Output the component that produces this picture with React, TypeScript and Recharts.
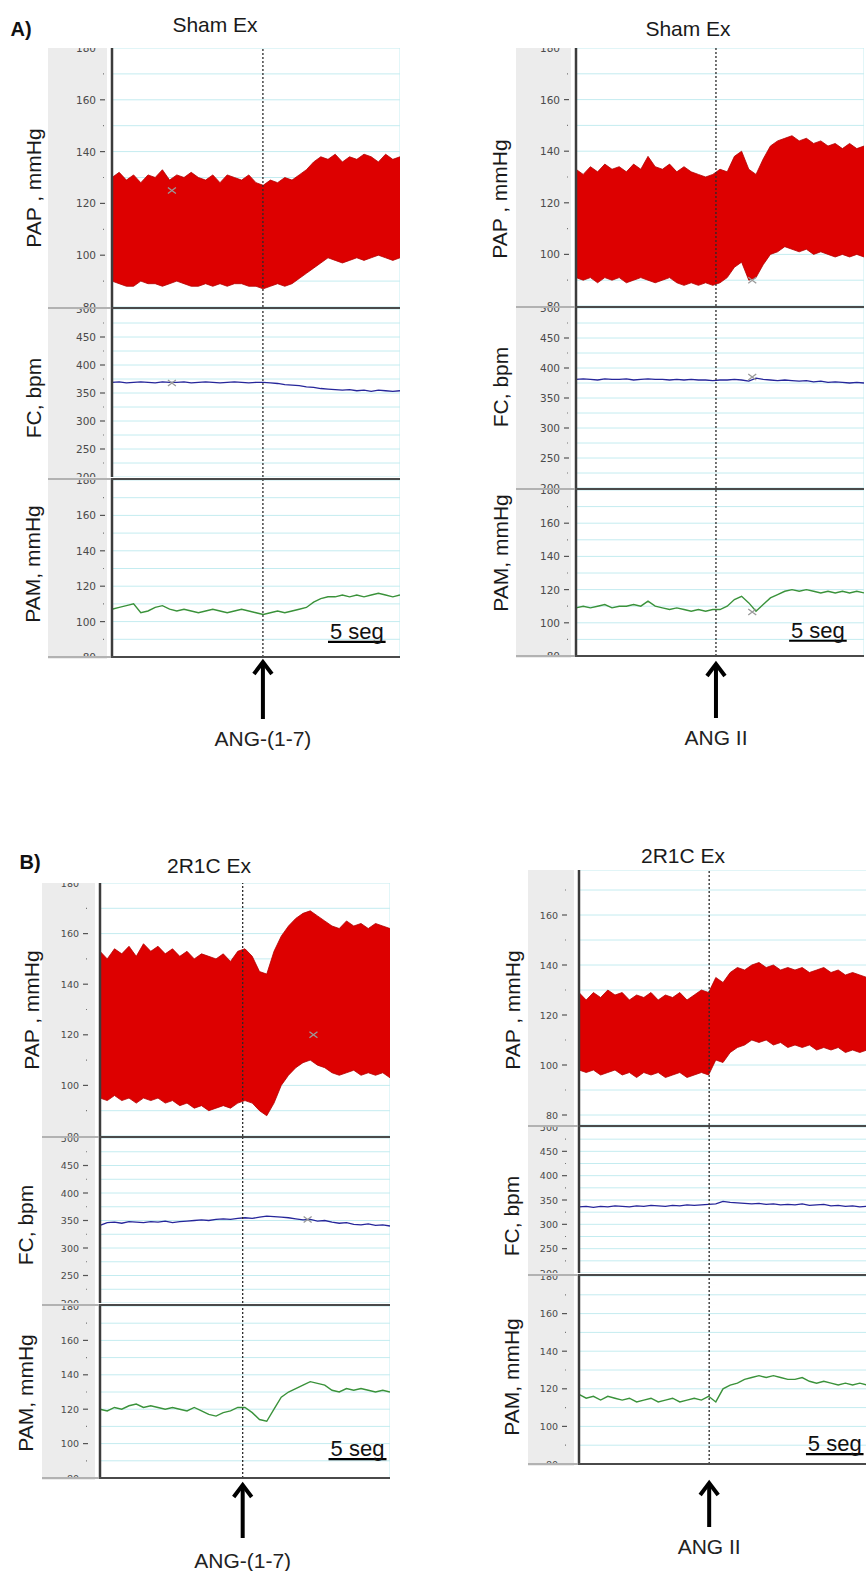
import React from 'react'
import {
  ComposedChart,
  Area,
  Line,
  XAxis,
  YAxis,
  CartesianGrid,
  ReferenceLine,
  ReferenceDot,
} from 'recharts'

const FONT = '"Liberation Sans", Arial, sans-serif'
const TICK_FONT = '"DejaVu Sans", sans-serif'

// 41 samples over the 25 s window shown in every strip
const SAMPLE_STEP = 0.625
const X_TICKS = [0, 2.5, 5, 7.5, 10, 12.5, 15, 17.5, 20, 22.5, 25]

const PAP_DOMAIN = [80, 180]
const PAP_DOMAIN_B2 = [76, 178]
const FC_DOMAIN = [200, 500]
const PAM_DOMAIN = [80, 180]
const PAP_TICKS = [80, 90, 100, 110, 120, 130, 140, 150, 160, 170, 180]
const PAP_TICKS_B2 = [80, 90, 100, 110, 120, 130, 140, 150, 160, 170]
const FC_TICKS = [200, 225, 250, 275, 300, 325, 350, 375, 400, 425, 450, 475, 500]
const PAM_TICKS = [80, 90, 100, 110, 120, 130, 140, 150, 160, 170, 180]

// A) Sham Ex, ANG-(1-7)
const A1_PAP_HIGH = [130, 132, 129, 131, 128, 131, 130, 133, 129, 131, 130, 132, 130, 129, 131, 128, 131, 130, 129, 131, 128, 127, 129, 128, 130, 129, 131, 133, 136, 138, 137, 139, 136, 138, 137, 139, 138, 136, 139, 137, 138]
const A1_PAP_LOW = [90, 89, 88, 88, 90, 89, 89, 88, 89, 90, 89, 88, 88, 89, 88, 89, 88, 89, 89, 88, 88, 87, 88, 89, 88, 89, 91, 93, 95, 97, 99, 98, 97, 98, 99, 98, 99, 100, 99, 98, 99]
const A1_FC = [369, 370, 368, 369, 370, 369, 368, 370, 369, 369, 370, 368, 369, 370, 369, 368, 369, 370, 369, 368, 369, 369, 368, 367, 365, 364, 363, 361, 360, 358, 357, 356, 355, 356, 354, 355, 353, 355, 354, 353, 354]
const A1_PAM = [107, 108, 109, 110, 105, 106, 108, 109, 107, 106, 107, 106, 105, 106, 107, 106, 105, 106, 107, 106, 105, 104, 105, 106, 105, 106, 107, 108, 111, 113, 114, 114, 115, 114, 115, 114, 115, 116, 115, 114, 115]

// A) Sham Ex, ANG II
const A2_PAP_HIGH = [133, 131, 134, 132, 135, 133, 134, 132, 135, 133, 138, 134, 133, 135, 132, 134, 132, 131, 130, 131, 133, 132, 138, 140, 133, 131, 137, 142, 144, 145, 146, 144, 145, 143, 144, 142, 143, 141, 143, 141, 142]
const A2_PAP_LOW = [91, 90, 91, 89, 91, 90, 91, 89, 90, 91, 90, 89, 90, 91, 89, 88, 89, 88, 89, 88, 89, 91, 95, 97, 90, 91, 96, 100, 101, 103, 102, 101, 102, 100, 101, 100, 99, 100, 99, 100, 99]
const A2_FC = [381, 382, 381, 380, 382, 381, 381, 382, 380, 381, 382, 381, 381, 380, 381, 380, 381, 380, 380, 379, 380, 380, 381, 380, 378, 383, 381, 380, 379, 380, 379, 378, 379, 377, 378, 376, 377, 376, 375, 376, 375]
const A2_PAM = [109, 110, 109, 110, 111, 109, 110, 110, 111, 110, 113, 110, 109, 108, 109, 108, 107, 108, 107, 108, 108, 110, 114, 116, 112, 107, 111, 115, 117, 119, 120, 119, 120, 119, 118, 119, 118, 119, 118, 119, 118]

// B) 2R1C Ex, ANG-(1-7)
const B1_PAP_HIGH = [153, 150, 154, 152, 155, 151, 156, 153, 155, 152, 154, 151, 153, 150, 152, 151, 150, 152, 149, 153, 154, 151, 145, 144, 153, 159, 163, 166, 168, 169, 167, 165, 163, 162, 165, 163, 164, 162, 164, 163, 162]
const B1_PAP_LOW = [95, 94, 96, 94, 95, 93, 95, 94, 95, 93, 94, 92, 93, 91, 92, 90, 91, 92, 91, 93, 94, 93, 90, 88, 93, 100, 104, 107, 109, 110, 108, 107, 105, 104, 105, 106, 104, 105, 104, 105, 103]
const B1_FC = [341, 346, 347, 345, 348, 347, 346, 348, 347, 349, 346, 348, 349, 350, 351, 350, 352, 353, 352, 354, 355, 354, 356, 358, 357, 356, 355, 353, 351, 352, 349, 350, 347, 345, 346, 343, 342, 344, 341, 342, 340]
const B1_PAM = [120, 119, 121, 120, 122, 123, 121, 122, 121, 120, 121, 120, 119, 121, 119, 117, 116, 118, 119, 121, 121, 118, 114, 113, 120, 127, 130, 132, 134, 136, 135, 134, 131, 130, 132, 131, 132, 131, 130, 131, 130]

// B) 2R1C Ex, ANG II
const B2_PAP_HIGH = [129, 126, 129, 127, 130, 128, 129, 126, 128, 127, 129, 126, 128, 127, 129, 126, 128, 130, 129, 135, 133, 137, 139, 138, 140, 141, 139, 140, 138, 139, 138, 139, 137, 138, 139, 137, 138, 136, 137, 136, 135]
const B2_PAP_LOW = [98, 97, 98, 96, 97, 98, 96, 97, 95, 97, 96, 97, 95, 96, 97, 95, 96, 97, 96, 102, 101, 105, 107, 108, 110, 109, 110, 108, 109, 107, 108, 107, 108, 106, 107, 106, 107, 105, 106, 105, 106]
const B2_FC = [336, 337, 335, 337, 336, 338, 337, 336, 338, 337, 339, 338, 337, 339, 338, 340, 339, 340, 341, 342, 347, 345, 344, 343, 342, 343, 341, 342, 340, 341, 340, 342, 339, 340, 341, 338, 339, 337, 338, 336, 337]
const B2_PAM = [117, 115, 116, 114, 116, 115, 114, 115, 113, 114, 115, 113, 114, 115, 113, 114, 115, 114, 116, 113, 120, 122, 123, 125, 126, 127, 126, 127, 126, 125, 125, 126, 124, 123, 124, 123, 122, 123, 122, 123, 122]

// drug injection times (s) and cursor marks
const EVENTS = { A1: 13.1, A2: 12.15, B1: 12.3, B2: 11.3 }
const MARKS = {
  A1: [{ kind: 'pap', t: 5.2, v: 125 }, { kind: 'fc', t: 5.2, v: 368 }],
  A2: [{ kind: 'pap', t: 15.3, v: 90 }, { kind: 'fc', t: 15.3, v: 385 }, { kind: 'pam', t: 15.3, v: 106.5 }],
  B1: [{ kind: 'pap', t: 18.4, v: 120 }, { kind: 'fc', t: 17.9, v: 352 }],
  B2: [],
}
// 5 s scale bars (start, end, level in mmHg)
const SCALE_BARS = {
  A1: [18.75, 23.75, 88.6],
  A2: [18.5, 23.5, 89.2],
  B1: [19.7, 24.7, 91],
  B2: [19.7, 24.7, 85.3],
}

const buildRows = (hi, lo, fc, pam) =>
  hi.map((h, i) => ({ t: i * SAMPLE_STEP, pap: [lo[i], h], fc: fc[i], pam: pam[i] }))

const PANELS = [
  {
    id: 'A1', title: 'Sham Ex', titleX: 215, titleY: 24, letter: 'A)', letterX: 21, letterY: 29,
    drug: 'ANG-(1-7)', rows: buildRows(A1_PAP_HIGH, A1_PAP_LOW, A1_FC, A1_PAM),
    greyLeft: 48, axisX: 112, plotRight: 400,
    pap: [48, 307], fc: [309, 477], pam: [480, 657],
    papDomain: PAP_DOMAIN, papTicks: PAP_TICKS,
    labels: { pap: [33, 188], fc: [33, 398], pam: [32, 564] },
    tickFont: 10.5, labelGap: 16, dash: [12, 7],
    arrow: { tip: 3, tail: 62, text: 81 },
  },
  {
    id: 'A2', title: 'Sham Ex', titleX: 688, titleY: 28,
    drug: 'ANG II', rows: buildRows(A2_PAP_HIGH, A2_PAP_LOW, A2_FC, A2_PAM),
    greyLeft: 516, axisX: 576, plotRight: 864,
    pap: [48, 306], fc: [308, 488], pam: [490, 656],
    papDomain: PAP_DOMAIN, papTicks: PAP_TICKS,
    labels: { pap: [499, 199], fc: [500, 387], pam: [500, 553] },
    tickFont: 10.5, labelGap: 16, dash: [12, 7],
    arrow: { tip: 6, tail: 62, text: 81 },
  },
  {
    id: 'B1', title: '2R1C Ex', titleX: 209, titleY: 865, letter: 'B)', letterX: 30, letterY: 862,
    drug: 'ANG-(1-7)', rows: buildRows(B1_PAP_HIGH, B1_PAP_LOW, B1_FC, B1_PAM),
    greyLeft: 42, axisX: 100, plotRight: 390,
    pap: [883, 1136], fc: [1138, 1303], pam: [1306, 1478],
    papDomain: PAP_DOMAIN, papTicks: PAP_TICKS,
    labels: { pap: [31, 1010], fc: [25, 1225], pam: [25, 1393] },
    tickFont: 9.5, labelGap: 21, dash: [17, 12],
    arrow: { tip: 5, tail: 60, text: 82 },
  },
  {
    id: 'B2', title: '2R1C Ex', titleX: 683, titleY: 855,
    drug: 'ANG II', rows: buildRows(B2_PAP_HIGH, B2_PAP_LOW, B2_FC, B2_PAM),
    greyLeft: 528, axisX: 579, plotRight: 867,
    pap: [870, 1125], fc: [1127, 1273], pam: [1276, 1464],
    papDomain: PAP_DOMAIN_B2, papTicks: PAP_TICKS_B2,
    labels: { pap: [512, 1010], fc: [511, 1216], pam: [511, 1377] },
    tickFont: 9.5, labelGap: 21, dash: [17, 12],
    arrow: { tip: 17, tail: 63, text: 82 },
  },
]

const AXIS_TITLES = { pap: 'PAP , mmHg', fc: 'FC, bpm', pam: 'PAM, mmHg' }

const makeTick = (panel, domain, major) => (props) => {
  const { x, y, payload } = props
  const v = payload.value
  const txt = {
    textAnchor: 'end' as const,
    dominantBaseline: 'central' as const,
    fontSize: panel.tickFont,
    fontFamily: TICK_FONT,
    fill: '#4a4a4a',
  }
  // end labels are cut by the strip border
  if (v === domain[0] || v === domain[1]) {
    const atTop = v === domain[1]
    return (
      <svg x={x - 40} y={atTop ? y : y - 4} width={40} height={4} overflow="hidden">
        <text x={40 - panel.labelGap} y={atTop ? 0 : 4} {...txt}>{v}</text>
      </svg>
    )
  }
  if (v % major === 0) {
    return (
      <g>
        <text x={x - panel.labelGap} y={y} {...txt}>{v}</text>
        <line x1={x - panel.dash[0]} x2={x - panel.dash[1]} y1={y} y2={y} stroke="#555" strokeWidth={1.2} />
      </g>
    )
  }
  return <line x1={x - panel.dash[0] + 3} x2={x - panel.dash[1] - 1} y1={y} y2={y} stroke="#777" strokeWidth={1.2} />
}

const crossShape = (p) => (
  <path
    d={`M${p.cx - 4},${p.cy - 3}L${p.cx + 4},${p.cy + 3}M${p.cx - 4},${p.cy + 3}L${p.cx + 4},${p.cy - 3}`}
    stroke="#9a9a9a"
    strokeWidth={1.3}
    fill="none"
  />
)

const arrowLabel = (panel) => (props) => {
  const { x, y, height } = props.viewBox
  const base = y + height
  const tip = base + panel.arrow.tip
  const tail = base + panel.arrow.tail
  return (
    <g>
      <line x1={x} x2={x} y1={tip + 3} y2={tail} stroke="#000" strokeWidth={4} />
      <path d={`M${x - 9},${tip + 14}L${x},${tip + 2}L${x + 9},${tip + 14}`} fill="none" stroke="#000" strokeWidth={4} />
      <text x={x} y={base + panel.arrow.text} textAnchor="middle" dominantBaseline="central" fontSize={21} fontFamily={FONT} fill="#222">
        {panel.drug}
      </text>
    </g>
  )
}

const scaleLabel = (props) => {
  const { x, y, width } = props.viewBox
  return (
    <text x={x + width / 2} y={y - 3} textAnchor="middle" fontSize={22} fontFamily={FONT} fill="#111">
      5 seg
    </text>
  )
}

function Strip({ panel, kind }) {
  const [top, bottom] = panel[kind]
  const isPam = kind === 'pam'
  const extra = isPam ? 110 : 0
  const domain = kind === 'fc' ? FC_DOMAIN : kind === 'pap' ? panel.papDomain : PAM_DOMAIN
  const ticks = kind === 'fc' ? FC_TICKS : kind === 'pap' ? panel.papTicks : PAM_TICKS
  const major = kind === 'fc' ? 50 : 20
  const marks = MARKS[panel.id].filter((m) => m.kind === kind)
  const bar = SCALE_BARS[panel.id]

  return (
    <div style={{ position: 'absolute', left: panel.greyLeft, top }}>
      <ComposedChart
        width={panel.plotRight - panel.greyLeft}
        height={bottom - top + extra}
        data={panel.rows}
        margin={{ top: 0, right: 0, bottom: extra, left: 0 }}
      >
        <CartesianGrid stroke="#c4ecf0" strokeWidth={1} />
        <XAxis dataKey="t" type="number" domain={[0, 25]} ticks={X_TICKS} height={0} tick={false} tickLine={false} axisLine={false} />
        <YAxis
          type="number"
          domain={domain}
          ticks={ticks}
          interval={0}
          width={panel.axisX - panel.greyLeft}
          tickSize={0}
          tickMargin={0}
          tickLine={false}
          tick={makeTick(panel, domain, major)}
          axisLine={{ stroke: '#3c3c3c', strokeWidth: 2.5 }}
          allowDataOverflow
        />
        {kind === 'pap' && (
          <Area dataKey="pap" type="linear" stroke="#b30000" strokeWidth={0.8} fill="#dd0000" fillOpacity={1} isAnimationActive={false} dot={false} activeDot={false} />
        )}
        {kind === 'fc' && (
          <Line dataKey="fc" type="linear" stroke="#26269a" strokeWidth={1.3} dot={false} activeDot={false} isAnimationActive={false} />
        )}
        {kind === 'pam' && (
          <Line dataKey="pam" type="linear" stroke="#3a923a" strokeWidth={1.4} dot={false} activeDot={false} isAnimationActive={false} />
        )}
        <ReferenceLine
          x={EVENTS[panel.id]}
          stroke="#2a2a2a"
          strokeWidth={1.3}
          strokeDasharray="2 2"
          label={isPam ? arrowLabel(panel) : undefined}
        />
        {marks.map((m, i) => (
          <ReferenceDot key={i} x={m.t} y={m.v} r={4} shape={crossShape} />
        ))}
        {isPam && (
          <ReferenceLine
            segment={[{ x: bar[0], y: bar[2] }, { x: bar[1], y: bar[2] }]}
            stroke="#000"
            strokeWidth={2.2}
            label={scaleLabel}
          />
        )}
      </ComposedChart>
    </div>
  )
}

function Panel({ panel }) {
  const lines = [panel.fc[0] - 1, panel.pam[0] - 1, panel.pam[1]]
  return (
    <>
      <div
        style={{
          position: 'absolute',
          left: panel.greyLeft,
          top: panel.pap[0],
          width: panel.axisX - 5 - panel.greyLeft,
          height: panel.pam[1] - panel.pap[0] + 2,
          background: '#ececec',
        }}
      />
      <Strip panel={panel} kind="pap" />
      <Strip panel={panel} kind="fc" />
      <Strip panel={panel} kind="pam" />
      {lines.map((y) => (
        <React.Fragment key={y}>
          <div style={{ position: 'absolute', left: panel.greyLeft, top: y - 1, width: panel.axisX - panel.greyLeft, height: 2, background: '#b2b2b2' }} />
          <div style={{ position: 'absolute', left: panel.axisX - 1, top: y - 1, width: panel.plotRight - panel.axisX + 1, height: 2, background: '#4a4a4a' }} />
        </React.Fragment>
      ))}
      {Object.keys(AXIS_TITLES).map((k) => (
        <div
          key={k}
          style={{
            position: 'absolute',
            left: panel.labels[k][0],
            top: panel.labels[k][1],
            transform: 'translate(-50%, -50%) rotate(-90deg)',
            whiteSpace: 'nowrap',
            fontSize: 21,
            color: '#1a1a1a',
            lineHeight: 1,
          }}
        >
          {AXIS_TITLES[k]}
        </div>
      ))}
      <div
        style={{
          position: 'absolute',
          left: panel.titleX,
          top: panel.titleY,
          transform: 'translate(-50%, -50%)',
          whiteSpace: 'nowrap',
          fontSize: 21,
          color: '#1a1a1a',
          lineHeight: 1,
        }}
      >
        {panel.title}
      </div>
      {panel.letter && (
        <div
          style={{
            position: 'absolute',
            left: panel.letterX,
            top: panel.letterY,
            transform: 'translate(-50%, -50%)',
            fontSize: 20,
            fontWeight: 'bold',
            color: '#111',
            lineHeight: 1,
          }}
        >
          {panel.letter}
        </div>
      )}
    </>
  )
}

export default function App() {
  return (
    <div
      style={{
        position: 'absolute',
        left: 0,
        top: 0,
        width: 866,
        height: 1571,
        overflow: 'hidden',
        background: '#fff',
        fontFamily: FONT,
      }}
    >
      {PANELS.map((p) => (
        <Panel key={p.id} panel={p} />
      ))}
    </div>
  )
}
